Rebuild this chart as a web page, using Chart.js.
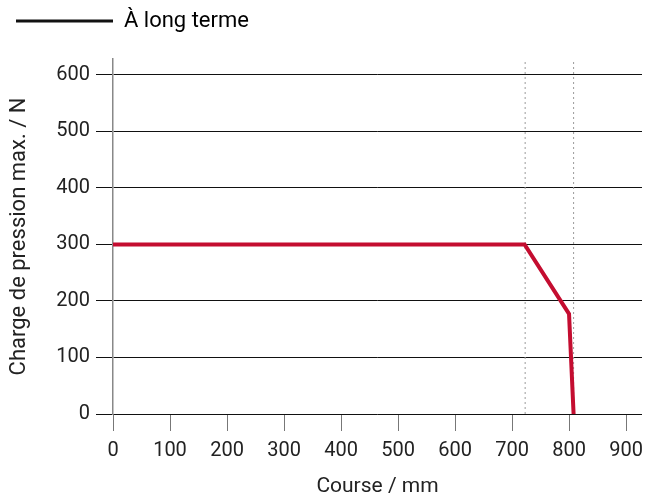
<!DOCTYPE html>
<html>
<head>
<meta charset="utf-8">
<script src="https://cdn.jsdelivr.net/npm/chart.js@4"></script>
<style>
  html, body { margin: 0; padding: 0; background: #fff; }
  #wrap { width: 645px; height: 499px; }
</style>
</head>
<body>
<div id="wrap"><canvas id="chart"></canvas></div>
<script>
// values
const course = [0, 722, 800, 808];
const charge = [300, 300, 177, 0];
const markers = [723, 808];
const seriesLabel = "À long terme";
const xTitle = "Course / mm";
const yTitle = "Charge de pression max. / N";
const xMax = 928;
const yMax = 628;

const mainData = course.map((c, i) => ({ x: c, y: charge[i] }));

const datasets = [{
    label: seriesLabel,
    data: mainData,
    borderColor: "#c40d30",
    borderWidth: 4,
    pointRadius: 0,
    fill: false,
    tension: 0
}];

markers.forEach(m => {
    datasets.push({
        label: "",
        data: [{ x: m, y: 0 }, { x: m, y: yMax }],
        borderColor: "#9a9a9a",
        borderWidth: 1,
        borderDash: [2, 3],
        pointRadius: 0
    });
});

const tickFont = { family: "Roboto", size: 20 };
const titleFont = { family: "Roboto", size: 21 };

// extra space under the legend
const legendGap = {
    id: "legendGap",
    afterInit(chart) {
        const legend = chart.legend;
        if (!legend || legend._gapPatched) return;
        const fit = legend.fit;
        legend.fit = function () {
            fit.call(this);
            this.height += 17;
        };
        legend._gapPatched = true;
    }
};

new Chart(document.getElementById("chart"), {
    type: "line",
    data: { datasets: datasets },
    plugins: [legendGap],
    options: {
        responsive: true,
        maintainAspectRatio: false,
        animation: false,
        layout: { padding: { left: 6, right: 3, top: 0, bottom: 0 } },
        plugins: {
            tooltip: { enabled: false },
            legend: {
                align: "start",
                labels: {
                    color: "#222",
                    font: { family: "Roboto", size: 22 },
                    boxWidth: 97,
                    boxHeight: 3,
                    padding: 10,
                    generateLabels: chart => [{
                        text: seriesLabel,
                        fillStyle: "#111",
                        strokeStyle: "#111",
                        lineWidth: 0,
                        datasetIndex: 0
                    }]
                }
            }
        },
        scales: {
            x: {
                type: "linear",
                min: 0,
                max: xMax,
                afterFit: s => {
                    s.height = 85;
                    s.paddingLeft = 0;
                    s.paddingRight = 0;
                },
                border: { display: false },
                grid: {
                    drawOnChartArea: false,
                    drawTicks: true,
                    tickLength: 17,
                    tickColor: "#777"
                },
                ticks: {
                    stepSize: 100,
                    includeBounds: false,
                    color: "#222",
                    font: tickFont,
                    padding: 8,
                    maxRotation: 0
                },
                title: {
                    display: true,
                    text: xTitle,
                    color: "#222",
                    font: titleFont,
                    padding: { top: 4, bottom: 0 }
                }
            },
            y: {
                min: 0,
                max: yMax,
                afterFit: s => { s.width = 107; },
                border: { display: true, color: "#888", width: 1.5 },
                grid: {
                    color: "#111",
                    lineWidth: 1,
                    tickLength: 17,
                    tickColor: "#111"
                },
                ticks: {
                    stepSize: 100,
                    includeBounds: false,
                    color: "#222",
                    font: tickFont,
                    padding: 6
                },
                title: {
                    display: true,
                    text: yTitle,
                    color: "#222",
                    font: { family: "Roboto", size: 22 },
                    padding: { top: 0, bottom: 4 }
                }
            }
        }
    }
});
</script>
</body>
</html>
